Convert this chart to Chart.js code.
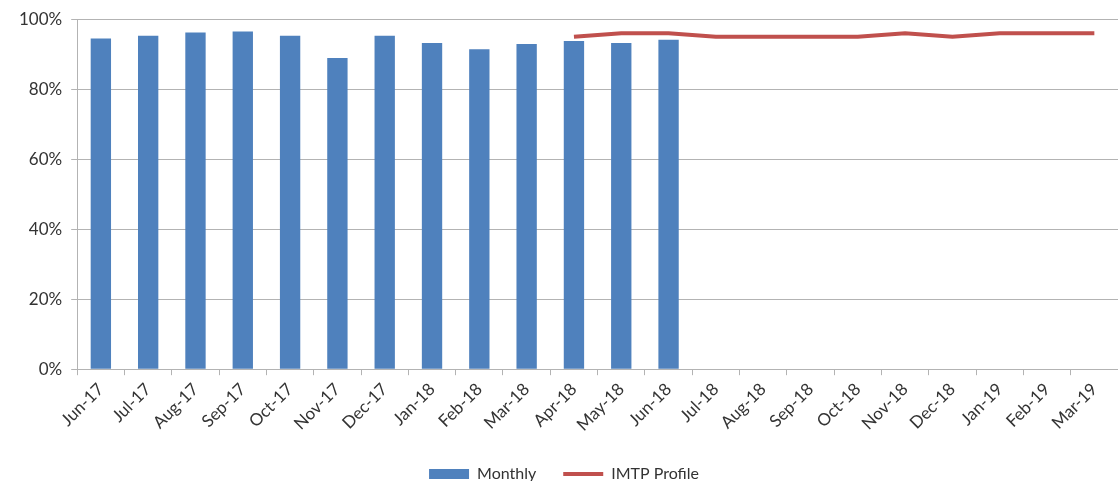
<!DOCTYPE html>
<html>
<head>
<meta charset="utf-8">
<script src="https://cdn.jsdelivr.net/npm/chart.js@4"></script>
<style>
  html, body { margin: 0; padding: 0; background: #fff; }
  #grafico { width: 1118px; height: 481px; position: relative; }
</style>
</head>
<body>
<div id="grafico"><canvas id="chart"></canvas></div>
<script>
const meses = [
  "Jun-17", "Jul-17", "Aug-17", "Sep-17", "Oct-17", "Nov-17", "Dec-17",
  "Jan-18", "Feb-18", "Mar-18", "Apr-18", "May-18", "Jun-18", "Jul-18",
  "Aug-18", "Sep-18", "Oct-18", "Nov-18", "Dec-18", "Jan-19", "Feb-19", "Mar-19",
];

// percentual mensal (so ate Jun-18)
const mensal = [94.5, 95.3, 96.2, 96.5, 95.3, 88.9, 95.3, 93.2, 91.4, 92.9, 93.8, 93.2, 94.1];

// perfil IMTP comeca em Apr-18
const perfilIMTP = [
  null, null, null, null, null, null, null, null, null, null,
  95, 96, 96, 95, 95, 95, 95, 96, 95, 96, 96, 96,
];

const fonteEixo = { family: "Lato", size: 17 };
const fonteLegenda = { family: "Lato", size: 16 };
const cinza = "#b3b3b3";

new Chart(document.getElementById("chart"), {
  type: "bar",
  data: {
    labels: meses,
    datasets: [
      {
        label: "Monthly",
        data: mensal,
        backgroundColor: "#4F81BD",
        borderWidth: 0,
        barPercentage: 0.43,
        categoryPercentage: 1,
        pointStyle: "rect",
      },
      {
        type: "line",
        label: "IMTP Profile",
        data: perfilIMTP,
        borderColor: "#C0504D",
        backgroundColor: "#C0504D",
        borderWidth: 4,
        pointRadius: 0,
        tension: 0,
        pointStyle: "line",
      },
    ],
  },
  options: {
    responsive: true,
    maintainAspectRatio: false,
    animation: false,
    layout: {
      // legenda fica mais perto da borda de baixo
      padding: { top: 16, right: 0, left: 10, bottom: -11 },
    },
    scales: {
      x: {
        offset: true,
        grid: {
          offset: true,
          drawOnChartArea: false,
          drawTicks: true,
          tickLength: 6,
          color: cinza,
        },
        border: { display: true, color: cinza },
        ticks: {
          color: "#333",
          font: fonteEixo,
          minRotation: 45,
          maxRotation: 45,
          autoSkip: false,
          padding: 4,
        },
      },
      y: {
        min: 0,
        max: 100,
        grid: {
          color: cinza,
          tickLength: 6,
        },
        border: { display: true, color: cinza },
        ticks: {
          stepSize: 20,
          color: "#333",
          font: fonteEixo,
          padding: 9,
          callback: (v) => v + "%",
        },
      },
    },
    plugins: {
      tooltip: { enabled: false },
      legend: {
        position: "bottom",
        labels: {
          usePointStyle: true,
          pointStyleWidth: 40,
          boxHeight: 10,
          color: "#333",
          font: fonteLegenda,
          padding: 27,
          sort: (a, b) => a.datasetIndex - b.datasetIndex,
        },
      },
    },
  },
});
</script>
</body>
</html>
